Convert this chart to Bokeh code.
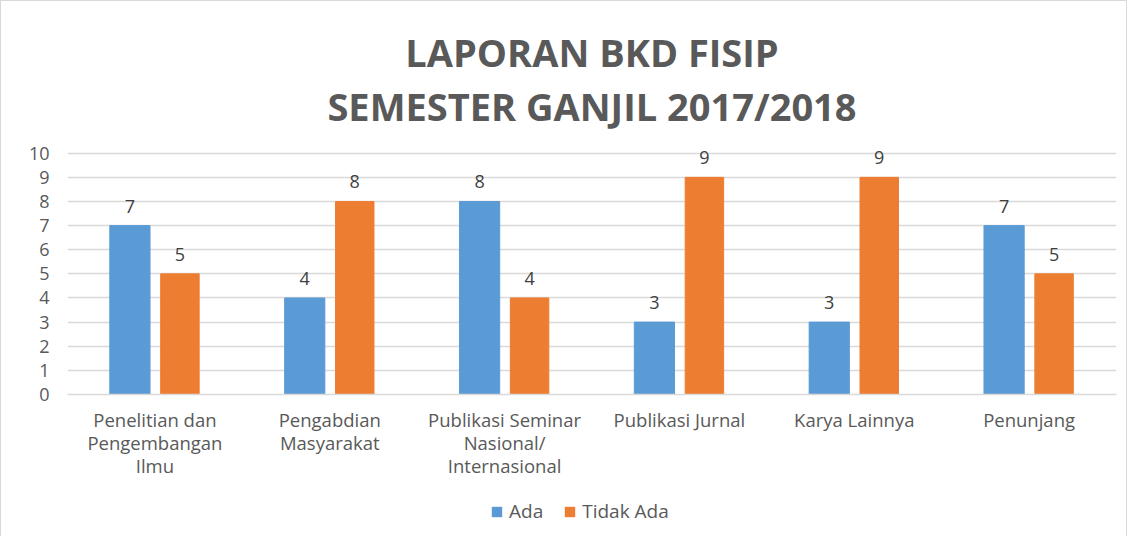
from bokeh.plotting import figure
from bokeh.layouts import column
from bokeh.models import (ColumnDataSource, Range1d, FixedTicker, Title, Legend,
                          LegendItem, LabelSet)
from bokeh.transform import dodge
from bokeh.core.properties import value
from bokeh.embed import file_html
from bokeh.resources import INLINE

categories = ["Penelitian dan\nPengembangan\nIlmu", "Pengabdian\nMasyarakat",
              "Publikasi Seminar\nNasional/\nInternasional", "Publikasi Jurnal",
              "Karya Lainnya", "Penunjang"]
ada = [7, 4, 8, 3, 3, 7]
tidak_ada = [5, 8, 4, 9, 9, 5]
y_ticks = [0, 1, 2, 3, 4, 5, 6, 7, 8, 9, 10]
series_names = ["Ada", "Tidak Ada"]
series_colors = ["#5B9BD5", "#ED7D31"]

FONT = "Open Sans"
idx = list(range(len(categories)))
src = ColumnDataSource(dict(x=idx, ada=ada, tidak=tidak_ada,
                            ada_s=[str(v) for v in ada],
                            tidak_s=[str(v) for v in tidak_ada]))

p = figure(width=1125, height=478, frame_width=1049, frame_height=263,
           output_backend="svg", toolbar_location=None,
           x_range=Range1d(-0.5, len(categories) - 0.5), y_range=Range1d(0, 10.9),
           min_border_left=66, min_border_right=10, min_border_top=130, min_border_bottom=0)
p.title = None
p.outline_line_color = None
p.background_fill_color = "white"
p.border_fill_color = "white"

p.vbar(x=dodge("x", -0.143, range=p.x_range), top="ada", width=0.23,
       color=series_colors[0], source=src)
p.vbar(x=dodge("x", 0.143, range=p.x_range), top="tidak", width=0.22,
       color=series_colors[1], source=src)

for col, off in (("ada", -0.143), ("tidak", 0.143)):
    p.add_layout(LabelSet(x=dodge("x", off, range=p.x_range), y=col, text=col + "_s",
                          source=src, text_align="center", text_baseline="bottom",
                          y_offset=13, text_font=value(FONT), text_font_size="18px",
                          text_color="#404040"))

# axes
p.xgrid.grid_line_color = None
p.ygrid.grid_line_color = "#d9d9d9"
p.ygrid.grid_line_width = 1.5
p.yaxis.ticker = FixedTicker(ticks=y_ticks)
p.yaxis.axis_line_color = None
p.yaxis.major_tick_line_color = None
p.yaxis.minor_tick_line_color = None
p.yaxis.major_tick_out = 0
p.yaxis.major_label_text_font = FONT
p.yaxis.major_label_text_font_size = "18px"
p.yaxis.major_label_text_color = "#595959"
p.yaxis.major_label_standoff = 18

p.xaxis.ticker = FixedTicker(ticks=idx)
p.xaxis.major_label_overrides = {i: c for i, c in zip(idx, categories)}
p.xaxis.axis_line_color = "#d9d9d9"
p.xaxis.axis_line_width = 1.5
p.xaxis.major_tick_line_color = None
p.xaxis.minor_tick_line_color = None
p.xaxis.major_tick_out = 0
p.xaxis.axis_label = None
p.xaxis.major_label_text_font = FONT
p.xaxis.major_label_text_font_size = "18.5px"
p.xaxis.major_label_text_color = "#595959"
p.xaxis.major_label_text_line_height = 0.92
p.xaxis.major_label_standoff = 12

# titles
for txt in ["SEMESTER GANJIL 2017/2018", "LAPORAN BKD FISIP"]:
    p.add_layout(Title(text=txt, align="center", text_font=FONT, text_font_size="38px",
                       text_font_style="bold", text_color="#595959", standoff=0), "above")

# legend strip (separate small figure below the chart)
lg = figure(width=1125, height=56, output_backend="svg", toolbar_location=None,
            x_range=Range1d(0, 1), y_range=Range1d(0, 1),
            x_axis_location=None, y_axis_location=None,
            min_border_left=0, min_border_right=0, min_border_top=0, min_border_bottom=0)
lg.title = None
lg.outline_line_color = None
lg.xgrid.visible = False
lg.ygrid.visible = False
items = []
for name, colr in zip(series_names, series_colors):
    # zero-height proxy bar, only used to give the legend its colour swatch
    r = lg.vbar(x=[0.5], bottom=[0], top=[0], width=0.01,
                fill_color=colr, line_color=None)
    items.append(LegendItem(label=name, renderers=[r]))
legend = Legend(items=items, orientation="horizontal", location=(423, 12),
                label_text_font=FONT, label_text_font_size="19px",
                label_text_color="#595959", glyph_width=13, glyph_height=13,
                spacing=20, label_standoff=6, border_line_color=None,
                background_fill_alpha=0, padding=0, margin=0)
lg.add_layout(legend)

layout = column(p, lg, spacing=0, styles={"border": "1px solid #d9d9d9"})

open("out.html", "w").write(file_html(layout, INLINE))
